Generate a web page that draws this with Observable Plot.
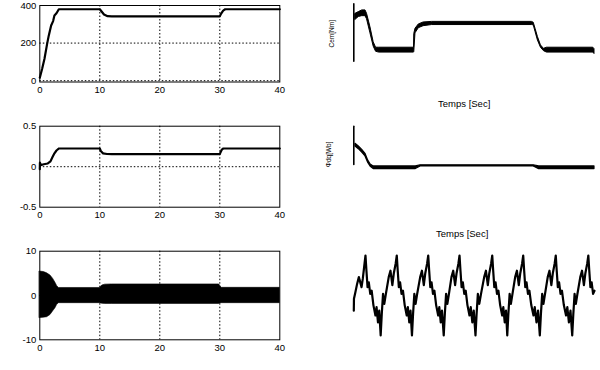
<!DOCTYPE html>
<html><head><meta charset="utf-8">
<script src="https://cdn.jsdelivr.net/npm/d3@7"></script>
<script src="https://cdn.jsdelivr.net/npm/@observablehq/plot@0.6"></script>
<style>
body{margin:0;background:#fff;}
#chart{position:relative;width:600px;height:370px;background:#fff;overflow:hidden;}
#chart svg{position:absolute;overflow:visible;}
</style></head><body><div id="chart"></div>
<script>
const FONT = '"Liberation Sans", Arial, Helvetica, sans-serif';

// ---------- Left column (time axis 0..40 s) ----------
const xTicks = [0, 10, 20, 30, 40];
const xGrid = [10, 20, 30];

// Plot 1: speed
const speedT = [0, 0.39, 0.78, 1.22, 1.5, 1.89, 2.22, 2.44, 2.78, 3.17, 10, 10.3, 10.7, 11.3, 12, 30, 30.2, 30.56, 30.9, 40];
const speedV = [16, 64, 117, 196, 241, 294, 317, 347, 359, 380, 380, 368, 352, 343, 342, 342, 356, 373, 380, 380];
const speedTicks = [0, 200, 400];

// Plot 2: flux
const fluxT = [0, 0.02, 0.15, 0.67, 1.33, 1.78, 2.1, 2.44, 2.78, 3.2, 10, 10.2, 10.55, 11.2, 12, 30, 30.05, 30.3, 30.6, 40];
const fluxV = [-0.03, 0.05, 0.02, 0.03, 0.04, 0.066, 0.116, 0.165, 0.2, 0.225, 0.225, 0.19, 0.165, 0.157, 0.155, 0.155, 0.165, 0.207, 0.225, 0.225];
const fluxTicks = [-0.5, 0, 0.5];

// Plot 3: current envelope
const curT  = [0, 0.67, 1.22, 1.78, 2.2, 2.6, 2.9, 3.2, 10, 10.4, 10.9, 12, 29.9, 30.1, 30.3, 40];
const curHi = [5.4, 5.3, 5.0, 4.5, 3.8, 2.9, 2.1, 1.7, 1.7, 2.25, 2.45, 2.5, 2.5, 2.1, 1.73, 1.73];
const curLo = [-5.1, -5.0, -4.9, -4.4, -3.6, -2.9, -2.1, -1.73, -1.73, -1.85, -1.9, -1.9, -1.9, -1.8, -1.73, -1.73];
const curTicks = [-10, 0, 10];

// ---------- Right column ----------
// Electromagnetic torque Cem [Nm]
const cemSpikeT = [0, 0];
const cemSpikeV = [0, 20];
const cemT  = [0.28, 0.83, 1.4, 1.94, 2.2, 2.77, 3.3, 3.7, 4.2, 10, 10.05, 10.25, 10.8, 11.6, 13, 29.6, 29.9, 30.2, 30.6, 31.1, 31.6, 32.1, 39.8, 40];
const cemHi = [16.5, 17.1, 17.7, 17.7, 16.5, 11.8, 6.6, 4.7, 4.7, 4.7, 9.5, 11.3, 12.8, 13.5, 13.7, 13.7, 13.4, 11.3, 8.4, 5.5, 4.3, 4.7, 4.7, 4.2];
const cemLo = [14.4, 15.4, 15.7, 15.7, 14.6, 9.7, 5.1, 3.3, 3.0, 3.0, 3.2, 9.7, 11.5, 12.2, 12.6, 12.6, 12.5, 10.2, 7.2, 4.7, 3.5, 3.0, 3.0, 2.5];

// Flux dq [Wb]
const phiSpikeT = [0, 0];
const phiSpikeV = [0, 1];
const phiT  = [0.28, 0.83, 1.4, 1.94, 2.4, 2.8, 3.3, 10.3, 11.1, 29.9, 30.8, 40];
const phiHi = [0.54, 0.47, 0.38, 0.28, 0.10, 0.0, -0.05, -0.05, -0.02, -0.02, -0.05, -0.05];
const phiLo = [0.47, 0.40, 0.31, 0.21, 0.04, -0.06, -0.12, -0.12, -0.05, -0.05, -0.12, -0.12];

// Phase current (ms, A) read point by point
const waveT = [0, 0.1, 1.0, 2.1, 3.2, 4.9, 5.7, 6.8,
 7.4, 8.0, 8.7, 9.5, 10.4, 11.3, 12.4, 13.7, 14.4, 15.3, 16.1, 17.0, 17.7, 18.5, 19.3, 20.3, 22.1, 23.2, 24.4, 25.3, 26.5,
 27.2, 27.8, 28.5, 29.3, 30.2, 31.1, 32.2, 33.5, 34.2, 35.1, 35.9, 36.8, 37.5, 38.3, 39.1, 40.1, 42.0, 43.1, 44.3, 45.2, 46.4,
 47.1, 47.7, 48.4, 49.2, 50.1, 51.0, 52.1, 53.4, 54.1, 55.0, 55.8, 56.9, 57.6, 58.4, 59.2, 60.2, 61.8, 62.9, 64.1, 65.0, 66.2,
 66.9, 67.5, 68.2, 69.0, 69.9, 70.8, 71.9, 73.2, 74.0, 75.0, 75.9, 77.0, 77.7, 78.5, 79.4, 80.5, 82.5, 83.6, 84.8, 85.7, 86.9,
 87.6, 88.2, 88.9, 89.7, 90.6, 91.5, 92.6, 93.9, 94.6, 95.5, 96.3, 97.1, 97.8, 98.6, 99.4, 100.4, 102.1, 103.2, 104.4, 105.3, 106.5,
 107.2, 107.8, 108.5, 109.3, 110.2, 111.1, 112.3, 113.7, 114.5, 115.6, 116.6, 117.7, 118.4, 119.2, 120.0, 121.0, 122.7, 123.8, 125.0, 125.9, 127.1,
 127.8, 128.4, 129.1, 129.9, 130.8, 131.7, 132.9, 134.3, 135.1, 136.1, 137.1, 138.2, 138.9, 139.7, 140.5, 141.5, 143.3, 144.4, 145.6, 146.5, 147.7,
 148.4, 149.0, 149.7, 150.5, 151.4, 152.3];
const waveV = [-3.8, -0.8, 0.8, 2.9, 4.6, 2.1, 4.2, 8.0,
 10, 6.2, 2.1, 3.3, 0.4, 1.2, -2.4, -5.0, -2.9, -6.7, -3.8, -10, -4.6, 0.4, -2.1, 0.4, 4.6, 6.2, 2.6, 5.5, 8.0,
 10, 6.2, 2.1, 3.3, 0.4, 1.2, -2.4, -5.0, -2.9, -6.7, -3.8, -10, -4.6, 0.4, -2.1, 0.4, 4.6, 6.2, 2.6, 5.5, 8.0,
 10, 6.2, 2.1, 3.3, 0.4, 1.2, -2.4, -5.0, -2.9, -6.7, -3.8, -10, -4.6, 0.4, -2.1, 0.4, 4.6, 6.2, 2.6, 5.5, 8.0,
 10, 6.2, 2.1, 3.3, 0.4, 1.2, -2.4, -5.0, -2.9, -6.7, -3.8, -10, -4.6, 0.4, -2.1, 0.4, 4.6, 6.2, 2.6, 5.5, 8.0,
 10, 6.2, 2.1, 3.3, 0.4, 1.2, -2.4, -5.0, -2.9, -6.7, -3.8, -10, -4.6, 0.4, -2.1, 0.4, 4.6, 6.2, 2.6, 5.5, 8.0,
 10, 6.2, 2.1, 3.3, 0.4, 1.2, -2.4, -5.0, -2.9, -6.7, -3.8, -10, -4.6, 0.4, -2.1, 0.4, 4.6, 6.2, 2.6, 5.5, 8.0,
 10, 6.2, 2.1, 3.3, 0.4, 1.2, -2.4, -5.0, -2.9, -6.7, -3.8, -10, -4.6, 0.4, -2.1, 0.4, 4.6, 6.2, 2.6, 5.5, 8.0,
 10, 6.2, 2.1, 3.3, 0.4, 1.2];

const cemLabel = "Cem[Nm]";
const phiLabel = "Φdq[Wb]";
const timeLabel = "Temps [Sec]";

// ---------- helpers ----------
const zip = (t, cols) => t.map((x, i) => { const r = {t: x}; for (const k in cols) r[k] = cols[k][i]; return r; });
const chart = document.getElementById("chart");
function place(svg, left, top) { svg.style.left = left + "px"; svg.style.top = top + "px"; chart.appendChild(svg); }
const baseStyle = {fontFamily: FONT, fontSize: "9.5px", color: "black", background: "transparent", overflow: "visible"};
const dash = {stroke: "black", strokeWidth: 1, strokeDasharray: "1.5,2"};

function leftPlot({height, mt, mb, yDomain, yTicks, gridY, marks}) {
  return Plot.plot({
    width: 300, height, marginLeft: 39.3, marginRight: 20.7, marginTop: mt, marginBottom: mb,
    style: baseStyle,
    x: {domain: [0, 40], ticks: xTicks, tickSize: 0, tickPadding: 4.5, label: null},
    y: {domain: yDomain, ticks: yTicks, tickSize: 0, tickPadding: 3.5, label: null, tickFormat: d => String(d)},
    marks: [
      Plot.ruleX(xGrid, dash),
      Plot.ruleY(gridY, dash),
      ...marks,
      Plot.frame({stroke: "black", strokeWidth: 1})
    ]
  });
}

// Left 1
place(leftPlot({height: 100, mt: 5, mb: 18.5, yDomain: [-7, 400], yTicks: speedTicks, gridY: [0, 200],
  marks: [Plot.line(zip(speedT, {v: speedV}), {x: "t", y: "v", stroke: "black", strokeWidth: 2.2})]}), 0, 0);
// Left 2
place(leftPlot({height: 115, mt: 15.7, mb: 18.3, yDomain: [-0.5, 0.5], yTicks: fluxTicks, gridY: [0],
  marks: [Plot.line(zip(fluxT, {v: fluxV}), {x: "t", y: "v", stroke: "black", strokeWidth: 2.2})]}), 0, 110);
// Left 3
place(leftPlot({height: 135, mt: 15.7, mb: 30.7, yDomain: [-10, 10], yTicks: curTicks, gridY: [0],
  marks: [Plot.areaY(zip(curT, {lo: curLo, hi: curHi}), {x: "t", y1: "lo", y2: "hi", fill: "black", stroke: "black", strokeWidth: 0.6})]}), 0, 235);

// Right 1: Cem
place(Plot.plot({
  width: 300, height: 112, marginLeft: 53.3, marginRight: 6, marginTop: 3.3, marginBottom: 51.3,
  style: baseStyle,
  x: {domain: [0, 40], axis: null}, y: {domain: [0, 20], axis: null},
  marks: [
    Plot.line(zip(cemSpikeT, {v: cemSpikeV}), {x: "t", y: "v", stroke: "black", strokeWidth: 1.6}),
    Plot.areaY(zip(cemT, {lo: cemLo, hi: cemHi}), {x: "t", y1: "lo", y2: "hi", fill: "black", stroke: "black", strokeWidth: 1}),
    Plot.text([cemLabel], {text: d => d, frameAnchor: "left", rotate: -90, dx: -22.3, dy: 15, fontSize: 6.5, fill: "black"}),
    Plot.text([timeLabel], {text: d => d, frameAnchor: "bottom", dx: -10, dy: 45.3, fontSize: 9.5, fill: "black"})
  ]
}), 300, 0);

// Right 2: flux dq
place(Plot.plot({
  width: 300, height: 128, marginLeft: 53.3, marginRight: 6, marginTop: 13.7, marginBottom: 76,
  style: baseStyle,
  x: {domain: [0, 40], axis: null}, y: {domain: [0, 1], axis: null},
  marks: [
    Plot.line(zip(phiSpikeT, {v: phiSpikeV}), {x: "t", y: "v", stroke: "black", strokeWidth: 1.6}),
    Plot.areaY(zip(phiT, {lo: phiLo, hi: phiHi}), {x: "t", y1: "lo", y2: "hi", fill: "black", stroke: "black", strokeWidth: 1.2}),
    Plot.text([phiLabel], {text: d => d, frameAnchor: "left", rotate: -90, dx: -25.3, dy: 21.9, fontSize: 6.5, fill: "black"}),
    Plot.text([timeLabel], {text: d => d, frameAnchor: "bottom", dx: -12, dy: 72, fontSize: 9.5, fill: "black"})
  ]
}), 300, 112);

// Right 3: current waveform
place(Plot.plot({
  width: 300, height: 130, marginLeft: 53.3, marginRight: 6, marginTop: 15, marginBottom: 35,
  style: baseStyle,
  x: {domain: [0, 152.3], axis: null}, y: {domain: [-10, 10], axis: null},
  marks: [
    Plot.line(zip(waveT, {v: waveV}), {x: "t", y: "v", stroke: "black", strokeWidth: 2.2})
  ]
}), 300, 240);
</script></body></html>
